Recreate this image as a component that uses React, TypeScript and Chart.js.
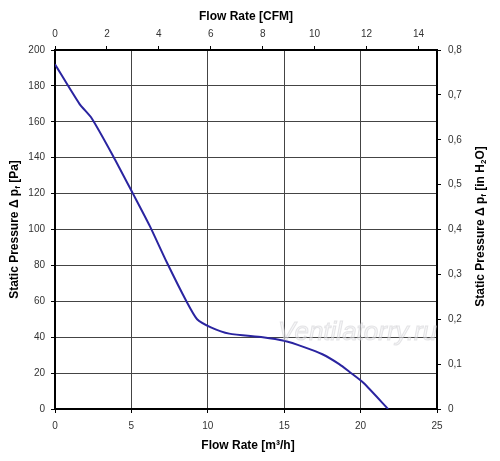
import React, { useEffect, useRef } from "react";
import { Chart, registerables } from "chart.js";

Chart.register(...registerables);

// Flow rate [m³/h]
const flowM3h: number[] = [0, 1.6, 2.4, 3.8, 5.1, 6.2, 7.3, 8.6, 9.3, 10.2, 11.4, 13.6, 15.0, 16.3, 17.5, 18.6, 19.3, 20.2, 21.8];
// Static pressure [Pa]
const pressurePa: number[] = [192, 170, 162, 141, 120, 102, 82, 60, 50, 45.5, 42, 40, 38, 34.5, 30.5, 25, 20.5, 14.5, 0];

const M3H_TO_CFM = 0.588578;
const X_MAX = 25;
const Y_MAX = 200;
const INH2O_MAX = 0.8;

const fmtComma = (v: number) => (v === 0 ? "0" : v.toFixed(1).replace(".", ","));

type Run = { t: string; sub?: boolean };

function drawRuns(ctx: CanvasRenderingContext2D, runs: Run[], cx: number, cy: number, rot: number) {
  const main = "bold 12px Arial, 'Liberation Sans', sans-serif";
  const small = "bold 8px Arial, 'Liberation Sans', sans-serif";
  let total = 0;
  for (const r of runs) {
    ctx.font = r.sub ? small : main;
    total += ctx.measureText(r.t).width;
  }
  ctx.save();
  ctx.translate(cx, cy);
  ctx.rotate(rot);
  ctx.fillStyle = "#000";
  ctx.textBaseline = "middle";
  ctx.textAlign = "left";
  let x = -total / 2;
  for (const r of runs) {
    ctx.font = r.sub ? small : main;
    ctx.fillText(r.t, x, r.sub ? 3 : 0);
    x += ctx.measureText(r.t).width;
  }
  ctx.restore();
}

const titlesPlugin = {
  id: "customTitles",
  afterDraw(chart: any) {
    const ctx: CanvasRenderingContext2D = chart.ctx;
    const a = chart.chartArea;
    const midX = (a.left + a.right) / 2;
    const midY = (a.top + a.bottom) / 2;
    // watermark
    ctx.save();
    ctx.font = "italic 26px Arial, 'Liberation Sans', sans-serif";
    ctx.fillStyle = "rgba(240,240,242,0.5)";
    ctx.strokeStyle = "rgba(200,200,205,0.45)";
    ctx.lineWidth = 1;
    ctx.textAlign = "right";
    ctx.textBaseline = "alphabetic";
    ctx.fillText("Ventilatorry.ru", a.right, 340);
    ctx.strokeText("Ventilatorry.ru", a.right, 340);
    ctx.restore();

    drawRuns(ctx, [{ t: "Flow Rate [CFM]" }], midX, 17, 0);
    drawRuns(ctx, [{ t: "Flow Rate [m³/h]" }], midX + 2, 446, 0);
    drawRuns(ctx, [{ t: "Static Pressure Δ p" }, { t: "f", sub: true }, { t: " [Pa]" }], 15, midY, -Math.PI / 2);
    drawRuns(
      ctx,
      [{ t: "Static Pressure Δ p" }, { t: "f", sub: true }, { t: " [in H" }, { t: "2", sub: true }, { t: "O]" }],
      481,
      midY - 3,
      -Math.PI / 2
    );
  },
};

export default function App() {
  const ref = useRef<HTMLCanvasElement | null>(null);

  useEffect(() => {
    document.body.style.margin = "0";
    const canvas = ref.current;
    if (!canvas) return;
    const tickFont = { family: "Arial, 'Liberation Sans', sans-serif", size: 10 };
    const tickColor = "#333";
    const gridColor = "#444";
    const border = { display: true, color: "#000", width: 2 };
    const chart = new Chart(canvas, {
      type: "line",
      data: {
        datasets: [
          {
            data: flowM3h.map((x, i) => ({ x, y: pressurePa[i] })),
            borderColor: "#2a24a0",
            borderWidth: 2,
            pointRadius: 0,
            tension: 0.2,
            fill: false,
            xAxisID: "x",
            yAxisID: "y",
          },
        ],
      },
      options: {
        responsive: false,
        animation: false,
        devicePixelRatio: 1,
        layout: { padding: 0 },
        plugins: { legend: { display: false }, tooltip: { enabled: false }, title: { display: false } },
        scales: {
          x: {
            type: "linear",
            position: "bottom",
            min: 0,
            max: X_MAX,
            ticks: { stepSize: 5, font: tickFont, color: tickColor, padding: 7, maxRotation: 0 },
            grid: { color: gridColor, lineWidth: 1, tickLength: 4, tickColor: "#000" },
            border,
            afterFit: (s: any) => {
              s.height = 52;
            },
          },
          xTop: {
            type: "linear",
            position: "top",
            min: 0,
            max: X_MAX * M3H_TO_CFM,
            ticks: { stepSize: 2, includeBounds: false, font: tickFont, color: tickColor, padding: 6, maxRotation: 0 },
            grid: { drawOnChartArea: false, tickLength: 4, tickColor: "#000" },
            border,
            afterFit: (s: any) => {
              s.height = 50;
            },
          },
          y: {
            type: "linear",
            position: "left",
            min: 0,
            max: Y_MAX,
            ticks: { stepSize: 20, font: tickFont, color: tickColor, padding: 6 },
            grid: { color: gridColor, lineWidth: 1, tickLength: 4, tickColor: "#000" },
            border,
            afterFit: (s: any) => {
              s.width = 55;
            },
          },
          yRight: {
            type: "linear",
            position: "right",
            min: 0,
            max: INH2O_MAX,
            ticks: {
              stepSize: 0.1,
              font: tickFont,
              color: tickColor,
              padding: 7,
              callback: (v: any) => fmtComma(Number(v)),
            },
            grid: { drawOnChartArea: false, tickLength: 4, tickColor: "#000" },
            border,
            afterFit: (s: any) => {
              s.width = 63;
            },
          },
        },
      } as any,
      plugins: [titlesPlugin],
    });
    return () => chart.destroy();
  }, []);

  return (
    <div style={{ width: 500, height: 461, background: "#fff" }}>
      <canvas ref={ref} width={500} height={461} style={{ display: "block" }} />
    </div>
  );
}
